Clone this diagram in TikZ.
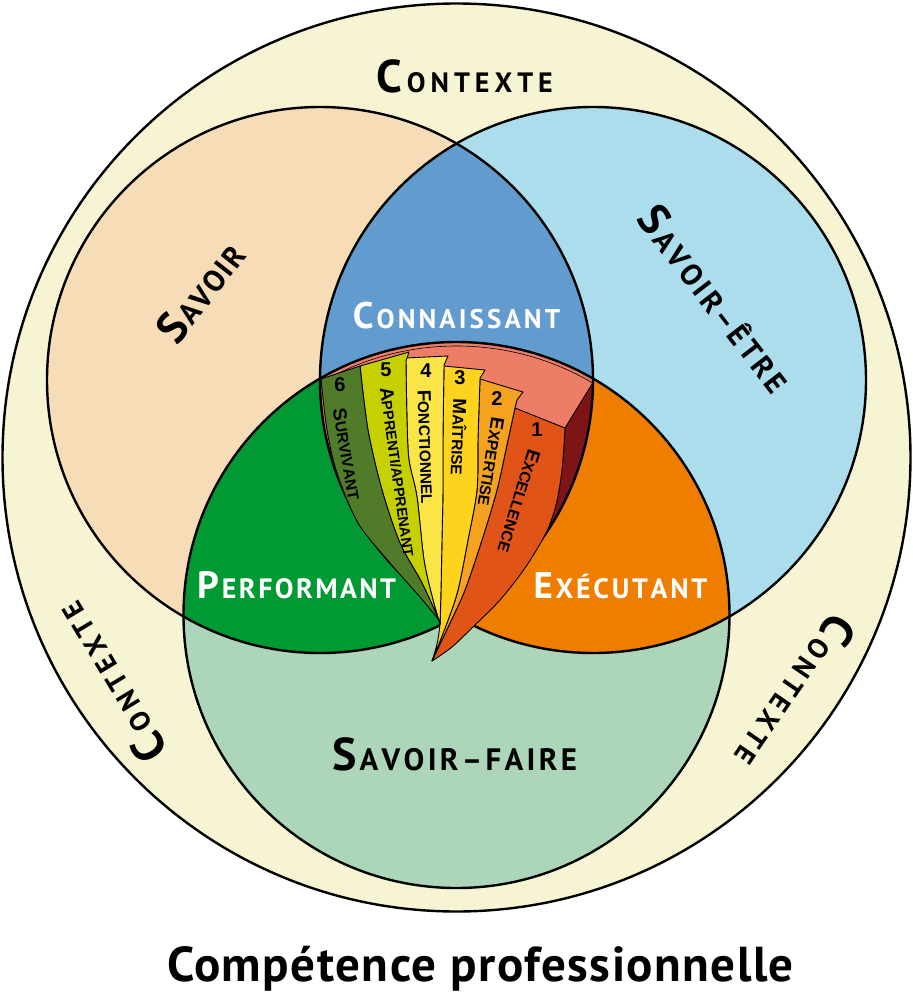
\documentclass[tikz,border=0pt]{standalone}
\usepackage{fontspec}
\setmainfont{PT Sans}
\newfontfamily\labfont{PT Sans}
\newfontfamily\titlefont[LetterSpace=3]{PT Sans}
\newfontfamily\tabfont{Liberation Sans}
\definecolor{ctx}{RGB}{247,244,211}
\definecolor{savoir}{RGB}{247,221,183}
\definecolor{etre}{RGB}{172,221,237}
\definecolor{faire}{RGB}{173,213,185}
\definecolor{conn}{RGB}{98,155,206}
\definecolor{perf}{RGB}{0,153,51}
\definecolor{execc}{RGB}{238,125,0}
\definecolor{salmon}{RGB}{238,125,104}
\definecolor{dred}{RGB}{125,21,23}
\definecolor{tsix}{RGB}{80,124,42}
\definecolor{tfive}{RGB}{198,208,0}
\definecolor{tfour}{RGB}{251,228,70}
\definecolor{tthree}{RGB}{253,211,30}
\definecolor{ttwo}{RGB}{245,163,31}
\definecolor{tone}{RGB}{224,84,23}
\makeatletter
\newcommand{\lsp}[2]{\@tfor\lsp@c:=#2\do{\lsp@c\kern#1}\unkern}
\makeatother
% #1 letter spacing, #2 big size, #3 small size, #4 first letter, #5 rest
\newcommand{\scap}[5]{{\fontsize{#2}{#2}\selectfont #4}\kern#1{\fontsize{#3}{#3}\selectfont\lsp{#1}{#5}}}
\newcommand{\tscap}[2]{\scap{0pt}{19pt}{15.5pt}{#1}{#2}}
\newcommand{\tnum}[1]{{\fontsize{20pt}{20pt}\selectfont #1}}
\begin{document}
\begin{tikzpicture}[x=1pt,y=-1pt,
  ring/.style={line width=2.4pt},
  tabedge/.style={draw=black, line width=0.9pt, line join=round},
  biglab/.style={font=\labfont\bfseries, inner sep=0pt},
  tablab/.style={font=\tabfont\bfseries, inner sep=0pt, anchor=center}]
\useasboundingbox (0,0) rectangle (913,994);
\coordinate (O) at (456.5,457.5);
\coordinate (A) at (320,380);
\coordinate (B) at (593,380);
\coordinate (C) at (456.5,615);
\def\R{273pt}
% fills
\fill[ctx] (O) circle[radius=454pt];
\fill[savoir] (A) circle[radius=\R];
\fill[etre] (B) circle[radius=\R];
\fill[faire] (C) circle[radius=\R];
\begin{scope}
  \clip (A) circle[radius=\R];
  \fill[conn] (B) circle[radius=\R];
  \fill[perf] (C) circle[radius=\R];
\end{scope}
\begin{scope}
  \clip (B) circle[radius=\R];
  \fill[execc] (C) circle[radius=\R];
\end{scope}
\begin{scope}
  \clip (A) circle[radius=\R];
  \clip (B) circle[radius=\R];
  \fill[salmon] (C) circle[radius=\R];
  \fill[dred] (565,428) -- (598,374) -- (640,420) -- (560,565) -- (530,560) -- cycle;
  \draw[line width=0.6pt] (C) circle[radius=269pt];
\end{scope}
% outlines
\draw[ring] (O) circle[radius=454pt];
\draw[ring] (A) circle[radius=\R];
\draw[ring] (B) circle[radius=\R];
\draw[ring] (C) circle[radius=\R];
% fan of tabs
\filldraw[tabedge, fill=tone] (515,408) -- (565,428)
  -- plot[smooth] coordinates {(565,428) (562,470) (556,505) (546,533) (525,568) (500,600) (475,625) (452,647) (432,661)}
  -- plot[smooth] coordinates {(432,661) (450,623) (465,590) (482,540) (497,490) (508,440) (515,408)} -- cycle;
\draw[line width=0.9pt] (565,428) -- (594,381);
\filldraw[tabedge, fill=ttwo] (480,379) -- (523,392) -- (517,400) -- (515,408)
  -- plot[smooth] coordinates {(515,408) (508,440) (497,490) (482,540) (465,590) (450,623) (432,661)}
  -- plot[smooth] coordinates {(432,661) (447,623) (458,590) (468,540) (477,490) (478,440) (480,379)} -- cycle;
\filldraw[tabedge, fill=tthree] (444,366) -- (485,370) -- (480,378)
  -- plot[smooth] coordinates {(480,379) (478,440) (477,490) (468,540) (458,590) (447,623) (432,661)}
  -- plot[smooth] coordinates {(432,661) (437,644) (440,624) (441,590) (442,540) (443,490) (443,440) (444,366)} -- cycle;
\filldraw[tabedge, fill=tfour] (405,358) -- (448,356) -- (444,365)
  -- plot[smooth] coordinates {(444,366) (443,440) (443,490) (442,540) (441,590) (440,624)}
  -- plot[smooth] coordinates {(440,624) (433,600) (424,560) (417,497) (409,460) (407,420) (406,361)} -- cycle;
\filldraw[tabedge, fill=tfive] (360,366) -- (409,352) -- (406,361)
  -- plot[smooth] coordinates {(406,361) (407,420) (409,460) (417,497) (424,560) (433,600) (440,624)}
  -- plot[smooth] coordinates {(440,624) (439,620) (422,583) (400,543) (382,490) (368,430) (360,366)} -- cycle;
\filldraw[tabedge, fill=tsix] (321,379) -- (360,366)
  -- plot[smooth] coordinates {(360,366) (368,430) (382,490) (400,543) (422,583) (439,620)}
  -- plot[smooth] coordinates {(439,620) (420,597) (390,563) (358,523) (337,473) (327,430) (321,379)} -- cycle;
% tab labels
\node[tablab] (n6) at (340,385) {\tnum{6}};
\node[tablab] (n5) at (386,370) {\tnum{5}};
\node[tablab] (n4) at (426,371) {\tnum{4}};
\node[tablab] (n3) at (460,378) {\tnum{3}};
\node[tablab] (n2) at (497,399) {\tnum{2}};
\node[tablab] (n1) at (537,430) {\tnum{1}};
\node[tablab, rotate=-80] (l6) at (347,454) {\tscap{S}{URVIVANT}};
\node[tablab, rotate=-82] (l5) at (398,472) {\scap{0pt}{19pt}{14.5pt}{A}{PPRENTI/APPRENANT}};
\node[tablab, rotate=-88] (l4) at (426,447) {\tscap{F}{ONCTIONNEL}};
\node[tablab, rotate=-92] (l3) at (459,437) {\tscap{M}{AÎTRISE}};
\node[tablab, rotate=-99] (l2) at (491,462) {\tscap{E}{XPERTISE}};
\node[tablab, rotate=-107] (l1) at (519,501) {\tscap{E}{XCELLENCE}};
% main labels
\node[biglab, anchor=base] (ctxtop) at (464.5,92) {\scap{5pt}{46pt}{28pt}{C}{ONTEXTE}};
\node[biglab, rotate=121] (ctxleft) at (110,683) {\scap{5pt}{46pt}{28pt}{C}{ONTEXTE}};
\node[biglab, rotate=-124.5] (ctxright) at (796,692) {\scap{5pt}{46pt}{28pt}{C}{ONTEXTE}};
\node[biglab, rotate=52] (savoirlab) at (200,292) {\scap{1.5pt}{44pt}{30pt}{S}{AVOIR}};
\node[biglab, rotate=-52.4] (etrelab) at (716,298) {\scap{3pt}{44pt}{30pt}{S}{AVOIR–ÊTRE}};
\node[biglab, text=white, anchor=base] (connlab) at (456.5,328) {\scap{3.1pt}{37pt}{27pt}{C}{ONNAISSANT}};
\node[biglab, text=white, anchor=base] (perflab) at (297,598) {\scap{2.4pt}{38pt}{28pt}{P}{ERFORMANT}};
\node[biglab, text=white, anchor=base] (execlab) at (620.5,598) {\scap{2.7pt}{37pt}{28pt}{E}{XÉCUTANT}};
\node[biglab, anchor=base] (fairelab) at (454.5,770) {\scap{3.3pt}{46pt}{31pt}{S}{AVOIR–FAIRE}};
\node[font=\titlefont\bfseries\fontsize{49pt}{49pt}\selectfont, inner sep=0pt, anchor=base] (title) at (480.5,981) {Compétence professionnelle};
\end{tikzpicture}
\end{document}
